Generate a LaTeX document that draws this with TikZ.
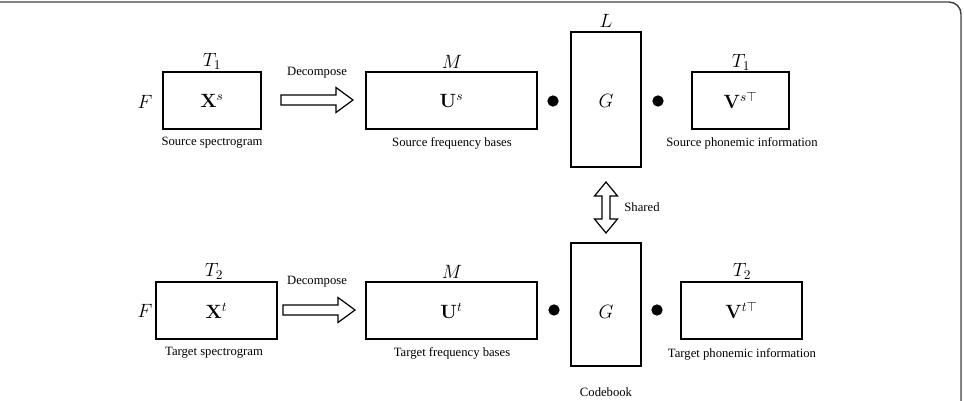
\documentclass[tikz,border=0pt]{standalone}
\usepackage[no-math]{fontspec}
\setmainfont{Liberation Serif}
\usetikzlibrary{calc}
\begin{document}
\begin{tikzpicture}[x=0.75pt,y=-0.75pt,
  box/.style={draw,line width=1.8pt,inner sep=0pt,minimum height=42.75pt,font=\fontsize{14.4}{17}\selectfont},
  gbox/.style={draw,line width=1.8pt,inner sep=0pt,minimum width=52.5pt,font=\fontsize{14.4}{17}\selectfont},
  dim/.style={inner sep=0pt,font=\fontsize{14.4}{17}\selectfont},
  lbl/.style={inner sep=0pt,font=\fontsize{9.5}{11}\selectfont},
  dot/.style={circle,fill,inner sep=0pt,minimum size=8.5pt},
  blk/.style={draw,line width=0.9pt,fill=white,line join=miter}]
\useasboundingbox (0,0) rectangle (964,400);
\draw[black!75,line width=1.1pt,rounded corners=9pt] (-10,2) -- (961,2) -- (961,410);

% ---- top row ----
\node[box,minimum width=73.5pt] (xs) at (212,100.5) {$\mathbf{X}^s$};
\node[dim] (fs) at (145,102) {$F$};
\node[dim] (t1a) at (212,61) {$T_1$};
\node[lbl] (lxs) at (212,143) {Source spectrogram};

\node[lbl] (dec1) at (317,73) {Decompose};
\coordinate (a1) at (281,100);
\draw[blk] (a1) ++(0,-5) -- ++(55,0) -- ++(0,-7.5) -- ++(17,12.5) -- ++(-17,12.5) -- ++(0,-7.5) -- ++(-55,0) -- cycle;

\node[box,minimum width=128.25pt] (us) at (451.5,100.5) {$\mathbf{U}^s$};
\node[dim] (m1) at (452,62) {$M$};
\node[lbl] (lus) at (452,143) {Source frequency bases};

\node[dot] (d1) at (553,101) {};
\node[gbox,minimum height=101.25pt] (g1) at (606,99.5) {};
\node[dim] (gl1) at (606,101) {$G$};
\node[dim] (ll) at (606,21) {$L$};
\node[dot] (d2) at (658,101) {};

\node[box,minimum width=72.75pt] (vs) at (740.5,100.5) {$\mathbf{V}^{s\top}$};
\node[dim] (t1b) at (741,62) {$T_1$};
\node[lbl] (lvs) at (742,143) {Source phonemic information};

% ---- shared arrow ----
\coordinate (sh) at (606,182);
\draw[blk] (sh) -- ++(11.5,14) -- ++(-7.5,0) -- ++(0,23) -- ++(7.5,0) -- ++(-11.5,14) -- ++(-11.5,-14) -- ++(7.5,0) -- ++(0,-23) -- ++(-7.5,0) -- cycle;
\node[lbl] (shl) at (642,207) {Shared};

% ---- bottom row ----
\node[box,minimum width=90.75pt] (xt) at (216.5,310.5) {$\mathbf{X}^t$};
\node[dim] (ft) at (145,311) {$F$};
\node[dim] (t2a) at (214,271) {$T_2$};
\node[lbl] (lxt) at (214,353) {Target spectrogram};

\node[lbl] (dec2) at (317,282) {Decompose};
\coordinate (a2) at (283,310);
\draw[blk] (a2) ++(0,-5) -- ++(55,0) -- ++(0,-7.5) -- ++(17,12.5) -- ++(-17,12.5) -- ++(0,-7.5) -- ++(-55,0) -- cycle;

\node[box,minimum width=128.25pt] (ut) at (451.5,310.5) {$\mathbf{U}^t$};
\node[dim] (m2) at (452,272) {$M$};
\node[lbl] (lut) at (452,353) {Target frequency bases};

\node[dot] (d3) at (554,310) {};
\node[gbox,minimum height=92.25pt] (g2) at (606,304.5) {};
\node[dim] (gl2) at (606,312) {$G$};
\node[lbl] (cb) at (606,392) {Codebook};
\node[dot] (d4) at (657,310) {};

\node[box,minimum width=90.75pt] (vt) at (741.5,310.5) {$\mathbf{V}^{t\top}$};
\node[dim] (t2b) at (742,271) {$T_2$};
\node[lbl] (lvt) at (742,354) {Target phonemic information};
\end{tikzpicture}
\end{document}
